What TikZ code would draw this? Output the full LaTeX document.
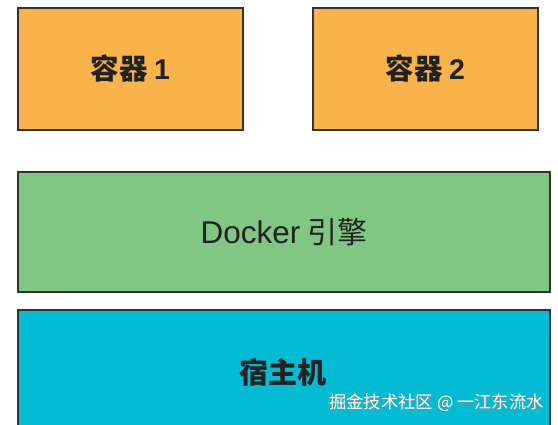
\documentclass[tikz,border=0pt]{standalone}
\usepackage{fontspec}
\setmainfont{Noto Sans CJK SC}
\newfontfamily\cjk{Noto Sans CJK SC}
\newfontfamily\lat{Liberation Sans}
\definecolor{boxorange}{HTML}{FAB24B}
\definecolor{boxgreen}{HTML}{80C783}
\definecolor{boxcyan}{HTML}{03BCD4}
\definecolor{edge}{HTML}{333333}
\definecolor{txt}{HTML}{222222}
\begin{document}
\begin{tikzpicture}[x=1pt,y=-1pt,
  layer/.style={draw=edge,line width=1.6pt,text=txt},
  wm/.style={text=white,font=\cjk\fontsize{17.3}{19}\selectfont,anchor=east,inner sep=0pt}]
\useasboundingbox (0,0) rectangle (558,425);
\fill[white] (0,0) rectangle (558,425);
\begin{scope}
\clip (0,0) rectangle (558,425);
\node[layer,fill=boxcyan,minimum width=532pt,minimum height=140pt,anchor=north west,inner sep=0pt] (host) at (17,309) {};
\end{scope}
\node[font=\cjk\bfseries\fontsize{29}{32}\selectfont,text=txt] (hostlabel) at (283,372) {宿主机};
\node[layer,fill=boxgreen,minimum width=532pt,minimum height=120pt,anchor=north west,inner sep=0pt,font=\cjk\fontsize{30}{32}\selectfont] (engine) at (17,171) {{\lat\fontsize{31.5}{33}\selectfont Docker} 引擎};
\node[layer,fill=boxorange,minimum width=225pt,minimum height=122pt,anchor=north west,inner sep=0pt,font=\cjk\bfseries\fontsize{28.5}{31}\selectfont] (c1) at (17,7) {容器 {\lat\bfseries 1}};
\node[layer,fill=boxorange,minimum width=225pt,minimum height=122pt,anchor=north west,inner sep=0pt,font=\cjk\bfseries\fontsize{28.5}{31}\selectfont] (c2) at (312,7) {容器 {\lat\bfseries 2}};
\node[wm,text=black!45] at (544.6,403.6) {掘金技术社区 @ 一江东流水};
\node[wm] (mark) at (544,403) {掘金技术社区 @ 一江东流水};
\end{tikzpicture}
\end{document}
